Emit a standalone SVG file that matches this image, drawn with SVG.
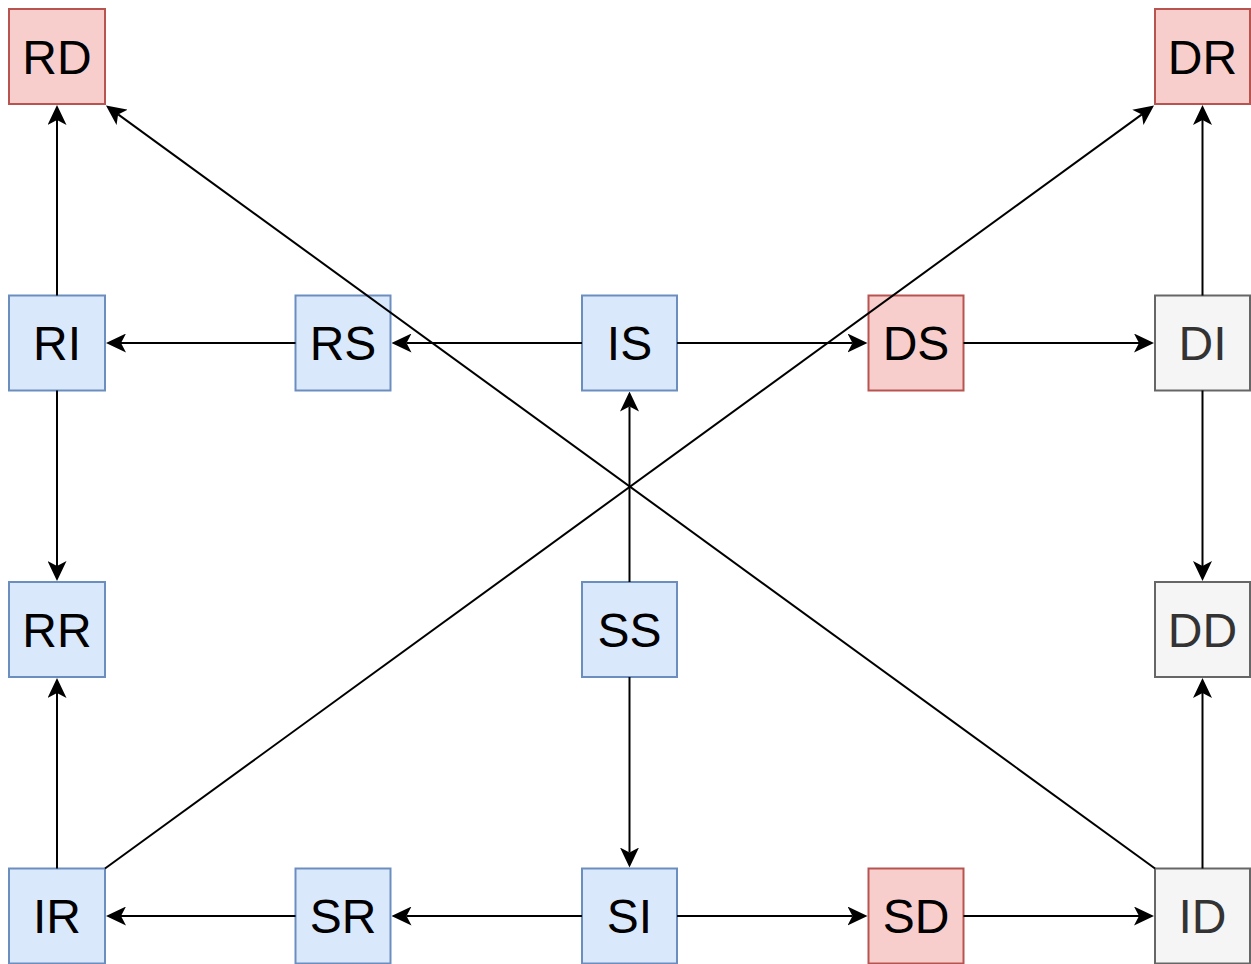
<svg xmlns="http://www.w3.org/2000/svg" width="1251" height="964" viewBox="0 0 1251 964">
<style>
rect{stroke-width:2}
.b rect{fill:#dae8fc;stroke:#6c8ebf}
.r rect{fill:#f8cecc;stroke:#b85450}
.g rect{fill:#f5f5f5;stroke:#666666}
text{font-family:"Liberation Sans",Arial,sans-serif;font-size:48px;text-anchor:middle;fill:#000}
.g text{fill:#333333}
.e line{stroke:#000;stroke-width:2;marker-end:url(#a)}
</style>
<defs>
<marker id="a" markerUnits="userSpaceOnUse" markerWidth="20" markerHeight="19" refX="5" refY="9.5" orient="auto" viewBox="0 0 20 19">
<path d="M0,0 L20,9.5 L0,19 L5,9.5 Z" fill="#000"/>
</marker>
</defs>
<g id="RD" class="r"><rect x="9" y="9" width="96" height="95"/><text x="57" y="73.5">RD</text></g>
<g id="DR" class="r"><rect x="1155" y="9" width="95" height="95"/><text x="1202.5" y="73.5">DR</text></g>
<g id="RI" class="b"><rect x="9" y="295.5" width="96" height="95"/><text x="57" y="360">RI</text></g>
<g id="RS" class="b"><rect x="295.5" y="295.5" width="95" height="95"/><text x="343" y="360">RS</text></g>
<g id="IS" class="b"><rect x="582" y="295.5" width="95" height="95"/><text x="629.5" y="360">IS</text></g>
<g id="DS" class="r"><rect x="868.5" y="295.5" width="95" height="95"/><text x="916" y="360">DS</text></g>
<g id="DI" class="g"><rect x="1155" y="295.5" width="95" height="95"/><text x="1202.5" y="360">DI</text></g>
<g id="RR" class="b"><rect x="9" y="582" width="96" height="95"/><text x="57" y="646.5">RR</text></g>
<g id="SS" class="b"><rect x="582" y="582" width="95" height="95"/><text x="629.5" y="646.5">SS</text></g>
<g id="DD" class="g"><rect x="1155" y="582" width="95" height="95"/><text x="1202.5" y="646.5">DD</text></g>
<g id="IR" class="b"><rect x="9" y="868.5" width="96" height="95"/><text x="57" y="933">IR</text></g>
<g id="SR" class="b"><rect x="295.5" y="868.5" width="95" height="95"/><text x="343" y="933">SR</text></g>
<g id="SI" class="b"><rect x="582" y="868.5" width="95" height="95"/><text x="629.5" y="933">SI</text></g>
<g id="SD" class="r"><rect x="868.5" y="868.5" width="95" height="95"/><text x="916" y="933">SD</text></g>
<g id="ID" class="g"><rect x="1155" y="868.5" width="95" height="95"/><text x="1202.5" y="933">ID</text></g>
<g class="e" id="edges">
<line x1="57" y1="295.5" x2="57" y2="120"/>
<line x1="57" y1="390.5" x2="57" y2="566"/>
<line x1="295.5" y1="343" x2="121" y2="343"/>
<line x1="582" y1="343" x2="406.5" y2="343"/>
<line x1="677" y1="343" x2="852.5" y2="343"/>
<line x1="963.5" y1="343" x2="1139" y2="343"/>
<line x1="1202.5" y1="295.5" x2="1202.5" y2="120"/>
<line x1="1202.5" y1="390.5" x2="1202.5" y2="566"/>
<line x1="629.5" y1="582" x2="629.5" y2="406.5"/>
<line x1="629.5" y1="677" x2="629.5" y2="852.5"/>
<line x1="582" y1="916" x2="406.5" y2="916"/>
<line x1="295.5" y1="916" x2="121" y2="916"/>
<line x1="57" y1="868.5" x2="57" y2="693"/>
<line x1="677" y1="916" x2="852.5" y2="916"/>
<line x1="963.5" y1="916" x2="1139" y2="916"/>
<line x1="1202.5" y1="868.5" x2="1202.5" y2="693"/>
<line x1="105" y1="868.5" x2="1141.9" y2="114.4"/>
<line x1="1155" y1="868.5" x2="118.1" y2="114.4"/>
</g>
</svg>
